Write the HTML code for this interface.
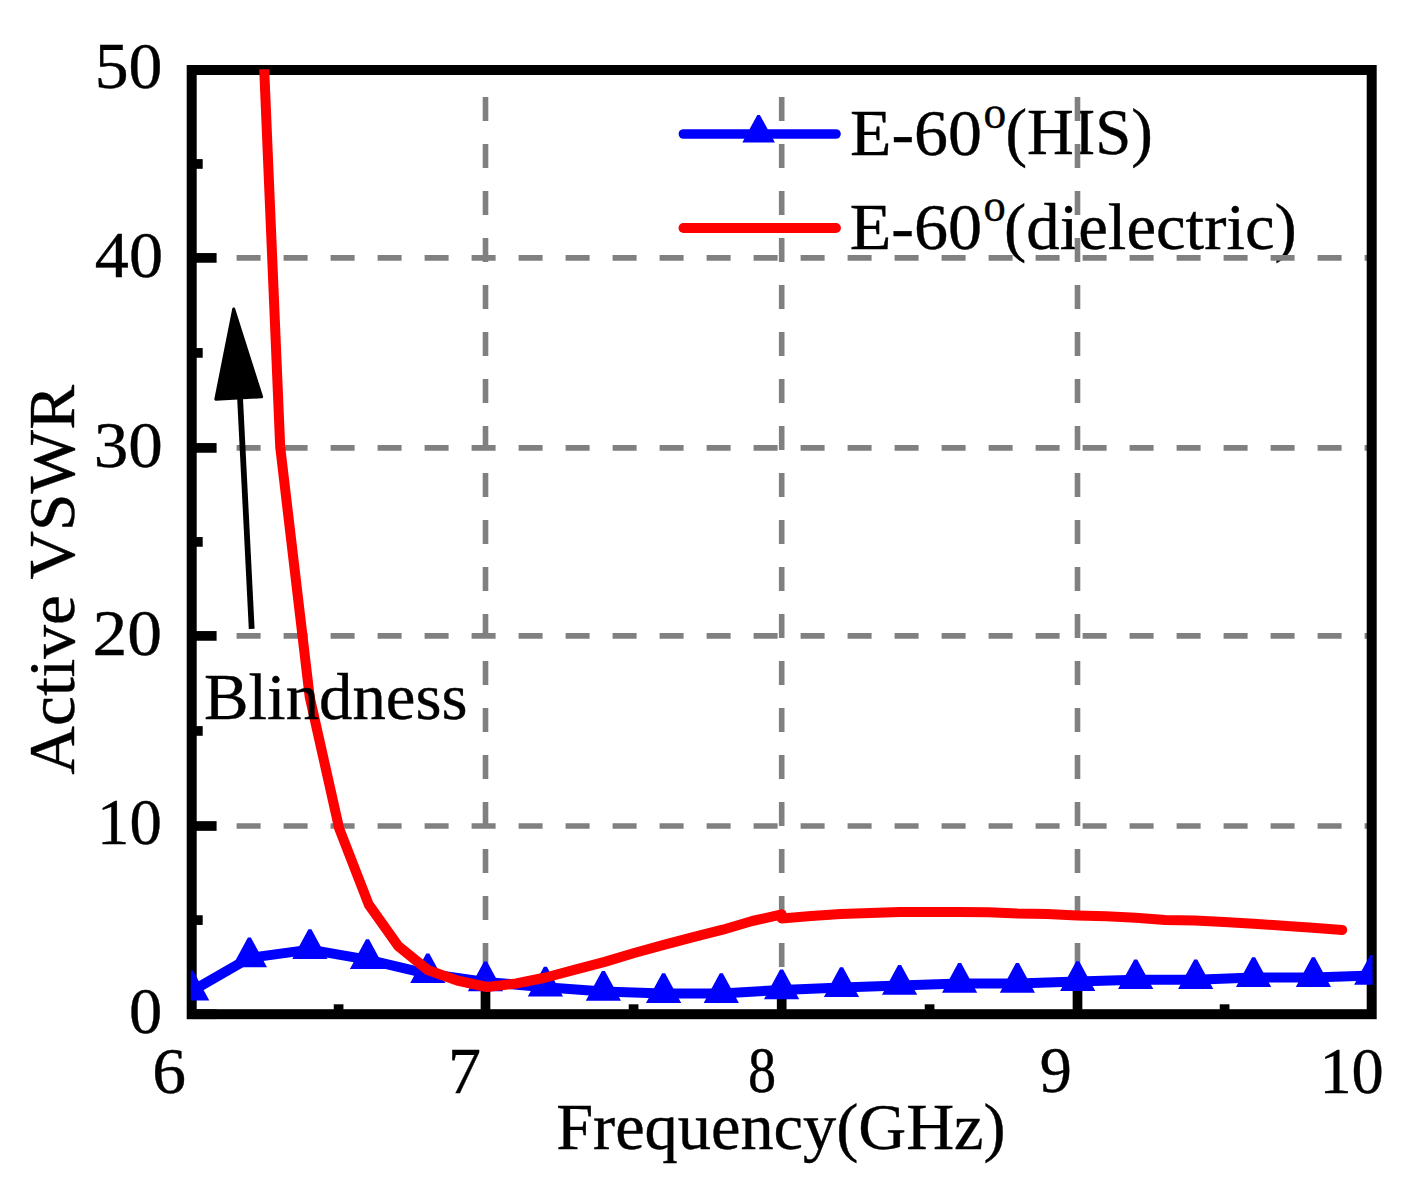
<!DOCTYPE html>
<html><head><meta charset="utf-8"><style>
html,body{margin:0;padding:0;background:#fff;}
svg{display:block;}
text{font-family:"Liberation Serif",serif;fill:#000;stroke:#000;stroke-width:0.4;font-size:65.5px;}
</style></head><body>
<svg width="1410" height="1192" viewBox="0 0 1410 1192">
<defs><clipPath id="pc"><rect x="190.8" y="69.2" width="1181.8" height="946"/></clipPath></defs>
<rect width="1410" height="1192" fill="#fff"/>
<text transform="translate(850.10,154.50) scale(1.0357,1)">E-60</text>
<text transform="translate(983.60,127.60) scale(0.9879,1)" style="font-size:46px">o</text>
<text transform="translate(1005.40,154.40) scale(0.9890,1)">(HIS)</text>
<text transform="translate(849.70,248.50) scale(1.0405,1)">E-60</text>
<text transform="translate(983.50,221.30) scale(0.9663,1)" style="font-size:46px">o</text>
<text transform="translate(1004.10,248.50) scale(1.0190,1)">(dielectric)</text>
<g stroke="#808080" stroke-width="5.6" stroke-dasharray="24.0 23.00"><line x1="485.5" y1="70.0" x2="485.5" y2="1014.2" stroke-dashoffset="20.00"/><line x1="781.7" y1="70.0" x2="781.7" y2="1014.2" stroke-dashoffset="20.00"/><line x1="1077.5" y1="70.0" x2="1077.5" y2="1014.2" stroke-dashoffset="20.00"/><line x1="191.7" y1="826.0" x2="1371.7" y2="826.0" stroke-dashoffset="2.10"/><line x1="191.7" y1="635.9" x2="1371.7" y2="635.9" stroke-dashoffset="2.10"/><line x1="191.7" y1="447.9" x2="1371.7" y2="447.9" stroke-dashoffset="2.10"/><line x1="191.7" y1="257.9" x2="1371.7" y2="257.9" stroke-dashoffset="2.10"/></g>
<g stroke="#000" stroke-width="9.7"><line x1="191.7" y1="1014.2" x2="216.6" y2="1014.2"/><line x1="191.7" y1="826.0" x2="216.6" y2="826.0"/><line x1="191.7" y1="635.9" x2="216.6" y2="635.9"/><line x1="191.7" y1="447.9" x2="216.6" y2="447.9"/><line x1="191.7" y1="257.9" x2="216.6" y2="257.9"/><line x1="191.7" y1="70.0" x2="216.6" y2="70.0"/><line x1="191.7" y1="920.1" x2="202.7" y2="920.1"/><line x1="191.7" y1="730.95" x2="202.7" y2="730.95"/><line x1="191.7" y1="541.9" x2="202.7" y2="541.9"/><line x1="191.7" y1="352.9" x2="202.7" y2="352.9"/><line x1="191.7" y1="163.95" x2="202.7" y2="163.95"/><line x1="485.5" y1="1014.2" x2="485.5" y2="989.3"/><line x1="781.7" y1="1014.2" x2="781.7" y2="989.3"/><line x1="1077.5" y1="1014.2" x2="1077.5" y2="989.3"/><line x1="338.6" y1="1014.2" x2="338.6" y2="1004.3"/><line x1="633.6" y1="1014.2" x2="633.6" y2="1004.3"/><line x1="929.6" y1="1014.2" x2="929.6" y2="1004.3"/><line x1="1224.6" y1="1014.2" x2="1224.6" y2="1004.3"/></g>
<rect x="191.7" y="70.0" width="1180.0" height="944.2" fill="none" stroke="#000" stroke-width="10"/>
<line x1="251.7" y1="628.8" x2="239.9" y2="395" stroke="#000" stroke-width="5.8"/>
<path d="M233.7,309 L261.6,396.8 L215.8,399.2 Z" fill="#000" stroke="#000" stroke-width="3" stroke-linejoin="round"/>
<g clip-path="url(#pc)"><polyline points="191.7,991.1 249.4,957.9 309.9,949.6 367.5,959.7 427.8,973.8 485.5,981.9 545.4,987.2 603.4,991.5 663.6,993.6 721.3,993.6 781.6,989.9 841.5,987.6 899.6,985.5 959.6,983.4 1017.4,983.4 1077.7,981.6 1135.7,979.8 1195.7,979.8 1253.6,977.6 1313.4,977.6 1371.7,975.5" fill="none" stroke="#00f" stroke-width="10" stroke-linejoin="round"/><path fill="#00f" d="M190.2,970.7L193.2,970.7L209.3,1000.4L174.1,1000.4ZM247.9,937.5L250.9,937.5L267.0,967.2L231.8,967.2ZM308.4,929.2L311.4,929.2L327.5,958.9L292.3,958.9ZM366.0,939.3L369.0,939.3L385.1,969.0L349.9,969.0ZM426.3,953.4L429.3,953.4L445.4,983.1L410.2,983.1ZM484.0,961.5L487.0,961.5L503.1,991.2L467.9,991.2ZM543.9,966.8L546.9,966.8L563.0,996.5L527.8,996.5ZM601.9,971.1L604.9,971.1L621.0,1000.8L585.8,1000.8ZM662.1,973.2L665.1,973.2L681.2,1002.9L646.0,1002.9ZM719.8,973.2L722.8,973.2L738.9,1002.9L703.7,1002.9ZM780.1,969.5L783.1,969.5L799.2,999.2L764.0,999.2ZM840.0,967.2L843.0,967.2L859.1,996.9L823.9,996.9ZM898.1,965.1L901.1,965.1L917.2,994.8L882.0,994.8ZM958.1,963.0L961.1,963.0L977.2,992.7L942.0,992.7ZM1015.9,963.0L1018.9,963.0L1035.0,992.7L999.8,992.7ZM1076.2,961.2L1079.2,961.2L1095.3,990.9L1060.1,990.9ZM1134.2,959.4L1137.2,959.4L1153.3,989.1L1118.1,989.1ZM1194.2,959.4L1197.2,959.4L1213.3,989.1L1178.1,989.1ZM1252.1,957.2L1255.1,957.2L1271.2,986.9L1236.0,986.9ZM1311.9,957.2L1314.9,957.2L1331.0,986.9L1295.8,986.9ZM1370.2,955.1L1373.2,955.1L1389.3,984.8L1354.1,984.8Z"/>
<polyline points="250.7,-250 280.2,447 309.7,697 339.2,828.5 368.7,904.5 398.2,946 427.7,970 457.2,980.5 486.7,987 516.2,983.5 545.7,977.5 575.2,969.6 604.7,961.9 634.2,953 663.7,944.9 693.2,937.1 722.7,929.7 752.2,921 781.7,914.3 781.7,918.5 811.2,916 840.7,914 870.2,913 899.7,912.1 929.2,912.1 958.7,912.1 988.2,912.3 1017.7,913.5 1047.2,914 1076.7,915.4 1106.2,916.3 1135.7,917.8 1165.2,919.9 1194.7,920.5 1224.2,921.9 1253.7,923.8 1283.2,925.7 1312.7,927.8 1342.2,929.9" fill="none" stroke="#f00" stroke-width="10" stroke-linejoin="round" stroke-linecap="round"/></g>
<line x1="683.4" y1="134" x2="836" y2="134" stroke="#00f" stroke-width="9.6" stroke-linecap="round"/>
<path d="M757.3,115 L759.9,115 L774.9,142.6 L742.3,142.6 Z" fill="#00f"/>
<line x1="683.4" y1="228" x2="836" y2="228" stroke="#f00" stroke-width="9.8" stroke-linecap="round"/>
<text transform="translate(162.30,1032.60) scale(1.0150,1)" text-anchor="end">0</text>
<text transform="translate(161.80,844.40) scale(0.9896,1)" text-anchor="end">10</text>
<text transform="translate(162.10,654.80) scale(1.0622,1)" text-anchor="end">20</text>
<text transform="translate(162.70,467.00) scale(1.0544,1)" text-anchor="end">30</text>
<text transform="translate(163.00,277.10) scale(1.0421,1)" text-anchor="end">40</text>
<text transform="translate(162.40,88.00) scale(1.0333,1)" text-anchor="end">50</text>
<text transform="translate(169.00,1092.50) scale(1.0304,1)" text-anchor="middle">6</text>
<text transform="translate(464.50,1093.10) scale(1.0068,1)" text-anchor="middle">7</text>
<text transform="translate(762.00,1092.30) scale(0.8587,1)" text-anchor="middle">8</text>
<text transform="translate(1055.80,1092.30) scale(0.9793,1)" text-anchor="middle">9</text>
<text transform="translate(1351.60,1092.60) scale(0.9828,1)" text-anchor="middle">10</text>
<text transform="translate(780.90,1149.00) scale(1.0132,1)" text-anchor="middle">Frequency(GHz)</text>
<text transform="translate(204.00,718.50) scale(1.0196,1)">Blindness</text>
<text transform="translate(73.90,579.80) rotate(-90) scale(1.0285,1)" text-anchor="middle">Active VSWR</text>
</svg></body></html>
